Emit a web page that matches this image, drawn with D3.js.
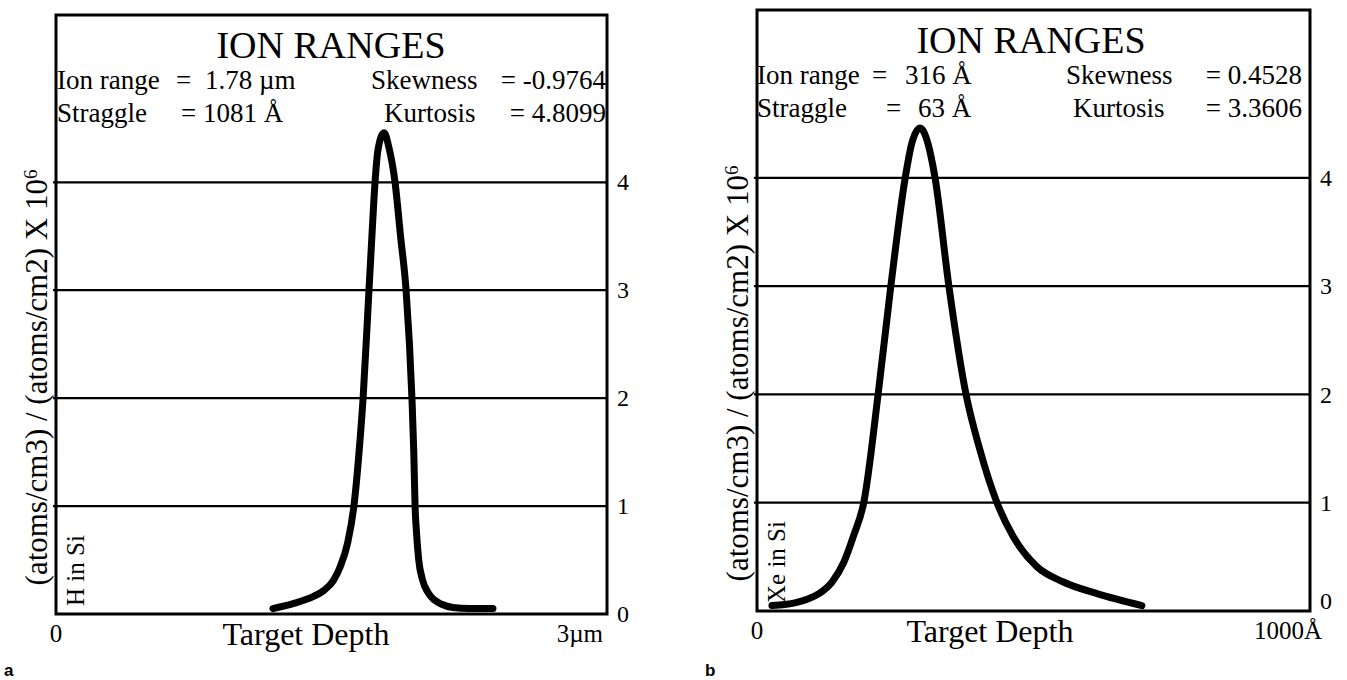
<!DOCTYPE html>
<html>
<head>
<meta charset="utf-8">
<script src="https://cdn.jsdelivr.net/npm/d3@7"></script>
<style>
  body { margin: 0; background: #fff; }
  text { font-family: "Liberation Serif", "Times New Roman", serif; fill: #000; }
</style>
</head>
<body>
<svg id="chart" width="1347" height="680"></svg>
<script>
// panel a : H in Si, depth in um
const depthA = [1.181, 1.30, 1.399, 1.46, 1.510, 1.548, 1.588, 1.622, 1.650, 1.672, 1.704, 1.72, 1.737, 1.753, 1.786,
  1.813, 1.846, 1.876, 1.906, 1.938, 1.948, 1.955, 1.963, 1.975, 1.995, 2.025, 2.060, 2.100, 2.160, 2.250, 2.379]
const concA = [0.05, 0.1, 0.16, 0.22, 0.31, 0.44, 0.66, 1.0, 1.5, 2.0, 3.0, 3.5, 4.0, 4.3, 4.46,
  4.32, 4.0, 3.5, 3.0, 2.0, 1.5, 1.0, 0.75, 0.5, 0.32, 0.2, 0.13, 0.09, 0.06, 0.05, 0.05]

// panel b : Xe in Si, depth in Angstrom
const depthB = [27, 50, 72, 92, 112, 136, 157, 175, 193, 219, 242, 268, 280, 295,
  309, 322, 347, 378, 403, 434, 463, 506, 553, 615, 696]
const concB = [0.05, 0.06, 0.08, 0.11, 0.16, 0.27, 0.45, 0.7, 1.0, 2.0, 3.0, 4.0, 4.32, 4.46,
  4.32, 4.0, 3.0, 2.0, 1.49, 1.0, 0.69, 0.41, 0.27, 0.16, 0.05]

const yTicks = [0, 1, 2, 3, 4]
const statsA = ["Ion range", "=", "1.78 µm", "Skewness", "= -0.9764", "Straggle", "= 1081 Å", "Kurtosis", "= 4.8099"]
const statsB = ["Ion range", "=", "316 Å", "Skewness", "= 0.4528", "Straggle", "=", "63 Å", "Kurtosis", "= 3.3606"]

const svg = d3.select("#chart")

function drawPanel(p) {
  const x = d3.scaleLinear().domain(p.xDomain).range([p.left, p.right])
  const y = d3.scaleLinear().domain([0, 5.55]).range([p.bottom, p.top])
  const g = svg.append("g")

  // horizontal grid lines
  g.selectAll(".grid")
    .data(yTicks.slice(1))
    .enter().append("line")
    .attr("x1", p.left - 3).attr("x2", p.right)
    .attr("y1", d => y(d)).attr("y2", d => y(d))
    .attr("stroke", "#000").attr("stroke-width", 2.2)

  // right axis labels
  const ax = g.append("g")
    .attr("transform", `translate(${p.right}, 0)`)
    .call(d3.axisRight(y).tickValues(yTicks).tickFormat(d3.format("d")).tickSize(0).tickPadding(10))
  ax.select(".domain").remove()
  ax.selectAll("text")
    .style("font-family", '"Liberation Serif", "Times New Roman", serif')
    .style("font-size", "24px")
  ax.selectAll(".tick").filter(d => d === 0).select("text")
    .attr("dy", p.zeroDy)

  // the profile
  const line = d3.line()
    .x(d => x(d[0]))
    .y(d => y(d[1]))
    .curve(d3.curveMonotoneX)
  g.append("path")
    .datum(d3.zip(p.depth, p.conc))
    .attr("fill", "none")
    .attr("stroke", "#000")
    .attr("stroke-width", 7)
    .attr("stroke-linecap", "round")
    .attr("stroke-linejoin", "round")
    .attr("d", line)

  // frame
  g.append("rect")
    .attr("x", p.left).attr("y", p.top)
    .attr("width", p.right - p.left).attr("height", p.bottom - p.top)
    .attr("fill", "none").attr("stroke", "#000").attr("stroke-width", 3)

  // title + stats
  g.append("text")
    .attr("x", p.titleX).attr("y", p.top + 43)
    .attr("text-anchor", "middle")
    .style("font-size", "38px")
    .text("ION RANGES")
  p.stats.forEach(s => {
    g.append("text")
      .attr("x", s.x).attr("y", p.top + s.dy)
      .attr("text-anchor", s.anchor || "start")
      .style("font-size", "27px")
      .text(s.t)
  })

  // x axis texts
  g.append("text").attr("x", p.left).attr("y", p.bottom + 28)
    .attr("text-anchor", "middle").style("font-size", "25px").text("0")
  g.append("text").attr("x", p.labelX).attr("y", p.bottom + 31)
    .attr("text-anchor", "middle").style("font-size", "32px").text("Target Depth")
  g.append("text").attr("x", p.endX).attr("y", p.bottom + 28)
    .attr("text-anchor", "end").style("font-size", "25px").text(p.endLabel)

  // y axis title
  const yl = g.append("text")
    .attr("transform", `translate(${p.left - 9}, ${(p.top + p.bottom) / 2 + 63}) rotate(-90)`)
    .attr("text-anchor", "middle")
    .style("font-size", "31px")
  yl.append("tspan").text("(atoms/cm3) / (atoms/cm2) X 10")
  yl.append("tspan").attr("baseline-shift", "super").style("font-size", "19px").text("6")

  // ion/target note
  g.append("text")
    .attr("transform", `translate(${p.left + 28}, ${p.bottom - 8}) rotate(-90)`)
    .style("font-size", "25px")
    .text(p.note)

  // panel letter
  svg.append("text")
    .attr("x", p.left - 52).attr("y", 676)
    .style("font-family", "Arial, 'Liberation Sans', sans-serif")
    .style("font-weight", "bold").style("font-size", "17px")
    .text(p.letter)
}

drawPanel({
  left: 56, right: 607, top: 15, bottom: 614,
  xDomain: [0, 3], depth: depthA, conc: concA,
  titleX: 331, labelX: 306, endX: 603, endLabel: "3µm",
  note: "H in Si", letter: "a", zeroDy: "0.32em",
  stats: [
    { t: statsA[0], x: 57, dy: 74 }, { t: statsA[1], x: 176, dy: 74 },
    { t: statsA[2], x: 205, dy: 74 },
    { t: statsA[3], x: 371, dy: 74 }, { t: statsA[4], x: 606, dy: 74, anchor: "end" },
    { t: statsA[5], x: 57, dy: 107 }, { t: statsA[6], x: 181, dy: 107 },
    { t: statsA[7], x: 384, dy: 107 }, { t: statsA[8], x: 606, dy: 107, anchor: "end" }
  ]
})

drawPanel({
  left: 757, right: 1310, top: 10, bottom: 611,
  xDomain: [0, 1000], depth: depthB, conc: concB,
  titleX: 1031, labelX: 990, endX: 1322, endLabel: "1000Å",
  note: "Xe in Si", letter: "b", zeroDy: "-0.1em",
  stats: [
    { t: statsB[0], x: 757, dy: 74 }, { t: statsB[1], x: 872, dy: 74 },
    { t: statsB[2], x: 905, dy: 74 },
    { t: statsB[3], x: 1066, dy: 74 }, { t: statsB[4], x: 1302, dy: 74, anchor: "end" },
    { t: statsB[5], x: 757, dy: 107 }, { t: statsB[6], x: 886, dy: 107 },
    { t: statsB[7], x: 918, dy: 107 },
    { t: statsB[8], x: 1073, dy: 107 }, { t: statsB[9], x: 1302, dy: 107, anchor: "end" }
  ]
})
</script>
</body>
</html>
